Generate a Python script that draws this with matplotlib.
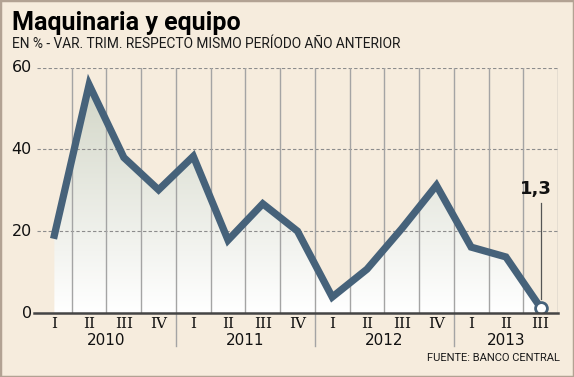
import numpy as np
import matplotlib
matplotlib.use("Agg")
import matplotlib.pyplot as plt
from matplotlib.patches import Rectangle, Polygon
from matplotlib.colors import LinearSegmentedColormap

quarters = ["I", "II", "III", "IV", "I", "II", "III", "IV", "I", "II", "III", "IV", "I", "II", "III"]
years = ["2010", "2011", "2012", "2013"]
values = [19.0, 55.8, 38.0, 30.1, 38.3, 17.8, 26.7, 20.0, 3.9, 10.7, 20.6, 31.2, 16.1, 13.7, 1.3]
yticks = [0, 20, 40, 60]

BG = "#f6ecdd"
LINE = "#46627a"

fig = plt.figure(figsize=(5.74, 3.77), dpi=100, facecolor=BG)
ax = fig.add_axes([37/574, 1-313/377, (558-37)/574, (313-67.5)/377])
ax.set_facecolor(BG)
x = np.arange(len(values))
ax.set_xlim(-0.5, len(values) - 0.5)
ax.set_ylim(0, 60)

# gradient fill under curve
cmap = LinearSegmentedColormap.from_list("g", ["#ffffff", "#cdd1c0"])
grad = np.linspace(0, 1, 256).reshape(-1, 1)
im = ax.imshow(grad, extent=[x[0], x[-1], 0, 60], origin="lower", aspect="auto",
               cmap=cmap, vmin=0, vmax=1.05, zorder=1)
poly = Polygon(np.vstack([[x[0], 0], np.column_stack([x, values]), [x[-1], 0]]),
               closed=True, facecolor="none", edgecolor="none")
ax.add_patch(poly)
im.set_clip_path(poly)

# grid lines
for yv in yticks[1:]:
    ax.axhline(yv, color="#8c8c8c", lw=0.8, ls=(0, (3, 2)), zorder=2)
for xv in np.arange(0.5, len(values), 1.0):
    ax.axvline(xv, color="#a4a4a4", lw=1.0, zorder=2)
# year separators extending below axis
for i in range(1, len(years)):
    xv = i * 4 - 0.5
    ax.plot([xv, xv], [0, -8], color="#a4a4a4", lw=1.0, clip_on=False, zorder=2)

ax.plot(x, values, color=LINE, lw=5.2, solid_joinstyle="miter", zorder=4)
ax.plot([x[-1]], [values[-1]], "o", ms=8.5, mfc="white", mec=LINE, mew=2.0, zorder=5)
ax.plot([x[-1], x[-1]], [values[-1] + 2, 27], color="#555555", lw=0.9, zorder=3)
ax.text(x[-1] - 0.15, 28, "1,3", ha="center", va="bottom", fontsize=13,
        fontweight="bold", color="#111111")

for s in ax.spines.values():
    s.set_visible(False)
ax.axhline(0, color="#444444", lw=1.8, zorder=6, xmin=-0.005, clip_on=False)
ax.set_xticks([])
ax.set_yticks([])
for yv in yticks:
    ax.text(-0.65, yv, str(yv), ha="right", va="center", fontsize=11.5, color="#111111")
for xi, q in zip(x, quarters):
    ax.text(xi, -2.7, q, ha="center", va="center", fontsize=11, color="#111111",
            family="DejaVu Serif")
for i, yr in enumerate(years):
    n = min(4, len(values) - i * 4)
    ax.text(i * 4 + (n - 1) / 2, -6.6, yr, ha="center", va="center", fontsize=11, color="#111111")

fig.text(12/574, 1-23/377, "Maquinaria y equipo", fontsize=18, fontweight="bold",
         family="Roboto", color="#000000", va="center", ha="left")
fig.text(12/574, 1-44.5/377, "EN % - VAR. TRIM. RESPECTO MISMO PERÍODO AÑO ANTERIOR",
         fontsize=9.9, family="Roboto", color="#1a1a1a", va="center", ha="left")
fig.text(560/574, 1-358/377, "FUENTE: BANCO CENTRAL", fontsize=8.0, family="Roboto",
         color="#1a1a1a", va="center", ha="right")

fig.patches.append(Rectangle((0, 0), 1, 1, transform=fig.transFigure, fill=False,
                             edgecolor="#b2a293", lw=2.5))
fig.savefig("out.png", dpi=100, facecolor=BG)
